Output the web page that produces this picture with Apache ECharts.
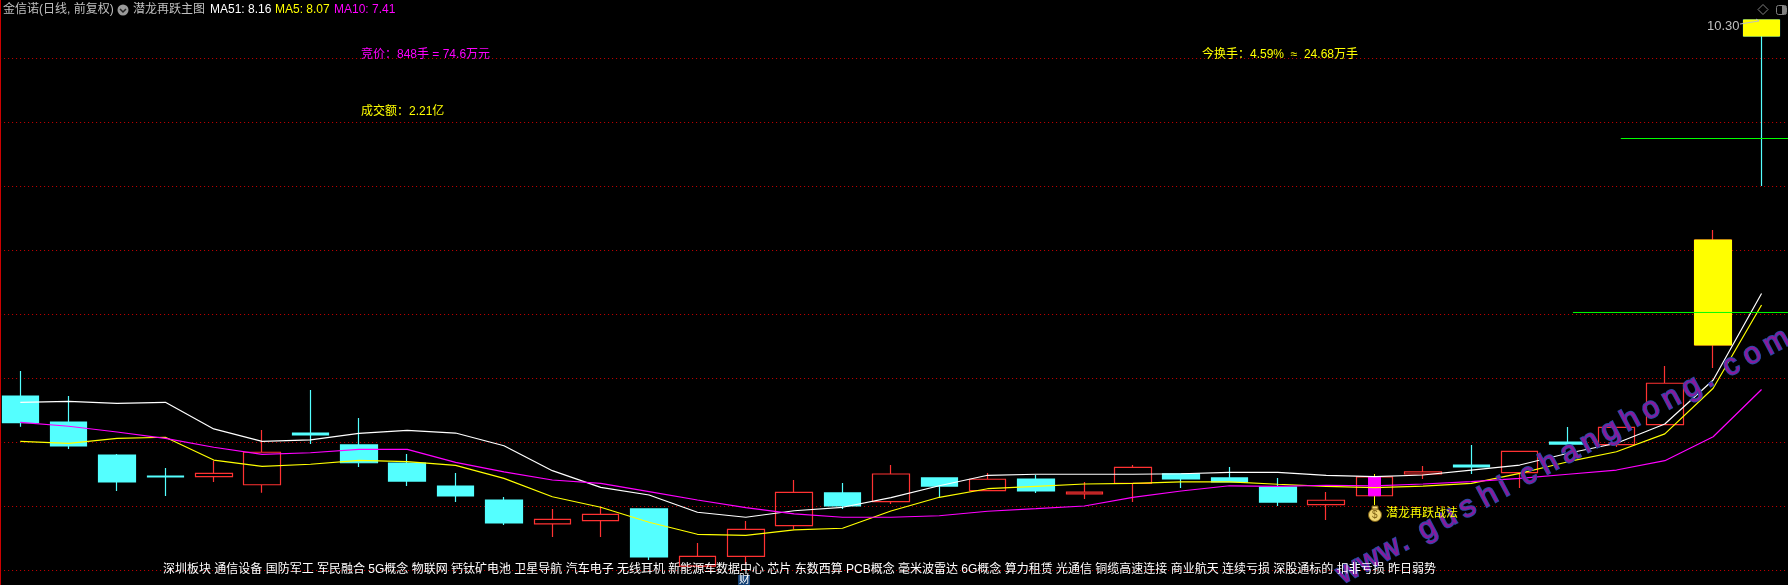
<!DOCTYPE html>
<html>
<head>
<meta charset="utf-8">
<title>金信诺 潜龙再跃主图</title>
<script src="https://cdn.jsdelivr.net/npm/echarts@6/dist/echarts.min.js"></script>
<style>
  html, body { margin: 0; padding: 0; background: #000; }
  #chart { width: 1788px; height: 585px; }
</style>
</head>
<body>
<div id="chart"></div>
<script>
// 日K数据，从图上读的
const opens = [7.359, 7.156, 6.898, 6.734, 6.729, 6.666, 7.07, 6.977, 6.836, 6.656, 6.547, 6.361, 6.385, 6.477, 6.031, 6.107, 6.346, 6.602, 6.534, 6.719, 6.62, 6.711, 6.594, 6.677, 6.752, 6.719, 6.648, 6.51, 6.58, 6.75, 6.82, 6.76, 7.0, 6.979, 7.135, 7.758, 10.297];
const closes = [7.151, 6.969, 6.688, 6.727, 6.755, 6.92, 7.055, 6.838, 6.695, 6.578, 6.367, 6.396, 6.435, 6.102, 6.107, 6.318, 6.607, 6.5, 6.75, 6.656, 6.709, 6.617, 6.609, 6.802, 6.711, 6.688, 6.531, 6.545, 6.727, 6.766, 6.805, 6.927, 6.984, 7.115, 7.459, 8.578, 10.172];
const lows = [7.12, 6.945, 6.617, 6.578, 6.688, 6.604, 6.984, 6.805, 6.656, 6.531, 6.352, 6.258, 6.258, 6.078, 6.023, 6.039, 6.318, 6.477, 6.516, 6.57, 6.62, 6.602, 6.555, 6.531, 6.641, 6.688, 6.5, 6.391, 6.58, 6.711, 6.75, 6.641, 6.984, 6.961, 7.135, 7.578, 9.0];
const highs = [7.555, 7.359, 6.906, 6.797, 6.854, 7.094, 7.406, 7.188, 6.906, 6.758, 6.57, 6.477, 6.498, 6.477, 6.211, 6.383, 6.703, 6.68, 6.82, 6.719, 6.758, 6.742, 6.688, 6.82, 6.752, 6.805, 6.719, 6.609, 6.727, 6.813, 6.977, 6.927, 7.117, 7.115, 7.594, 8.656, 10.297];

const ma51 = [7.31, 7.318, 7.302, 7.31, 7.102, 7.005, 7.016, 7.068, 7.091, 7.07, 6.971, 6.776, 6.646, 6.586, 6.451, 6.412, 6.463, 6.49, 6.565, 6.658, 6.74, 6.748, 6.748, 6.748, 6.752, 6.763, 6.763, 6.74, 6.729, 6.742, 6.781, 6.82, 6.912, 6.99, 7.141, 7.484, 8.16];
const ma5 = [7.005, 6.99, 7.029, 7.037, 6.859, 6.81, 6.826, 6.857, 6.846, 6.818, 6.716, 6.572, 6.49, 6.373, 6.279, 6.271, 6.313, 6.326, 6.461, 6.568, 6.635, 6.654, 6.672, 6.677, 6.688, 6.688, 6.67, 6.654, 6.643, 6.656, 6.677, 6.755, 6.846, 6.924, 7.063, 7.42, 8.07];
const ma10 = [7.154, 7.123, 7.078, 7.029, 6.959, 6.904, 6.916, 6.943, 6.943, 6.841, 6.766, 6.703, 6.677, 6.612, 6.547, 6.487, 6.438, 6.412, 6.412, 6.424, 6.459, 6.479, 6.5, 6.568, 6.617, 6.658, 6.654, 6.662, 6.658, 6.672, 6.69, 6.716, 6.748, 6.781, 6.854, 7.041, 7.41];

// 信号柱：第29根紫色，最后两根黄色
const signalIndex = 28;
const signalBody = [6.58, 6.727];
const signalWick = [6.508, 6.75];
const yellowIndex = [35, 36];
const yellowBody = [[7.758, 8.578], [10.172, 10.297]];

// 两条绿线 [起点序号, 价格]
const levelHigh = [33.09, 9.371];
const levelLow = [32.1, 8.012];

const tagsLeft = ['深圳板块', '通信设备', '国防军工', '军民融合', '5G概念', '物联网', '钙钛矿电池', '卫星导航', '汽车电子', '无线耳机', '新能源车'];
const tagsRight = ['数据中心', '芯片', '东数西算', 'PCB概念', '毫米波雷达', '6G概念', '算力租赁', '光通信', '铜缆高速连接', '商业航天', '连续亏损', '深股通标的', '扣非亏损', '昨日弱势'];
const watermark = 'www.gushichanghong.com';

const RED = '#ff3232';
const CYAN = '#54ffff';
const YELLOW = '#ffff00';
const MAGENTA = '#ff00ff';
const GREEN = '#00ff00';
const FONT = '"Liberation Sans","Noto Sans CJK SC",sans-serif';

// 多留一格，右边才能画到头
const days = opens.map((_, i) => i).concat(opens.length);
const empty = ['-', '-', '-', '-'];

function label(x, y, text, fill, size) {
  return {
    type: 'text', x: x, y: y, z: 100,
    style: { text: text, fill: fill, font: (size || 12) + 'px ' + FONT, verticalAlign: 'middle' },
  };
}

function maSeries(name, data, color) {
  return {
    name: name, type: 'line', data: data, z: 5,
    symbol: 'none', animation: false,
    lineStyle: { color: color, width: 1.2 },
  };
}

function levelSeries(name, start) {
  return {
    name: name, type: 'line', xAxisIndex: 1, z: 6,
    symbol: 'none', animation: false,
    lineStyle: { color: GREEN, width: 1 },
    data: [[start[0], start[1]], [37.5, start[1]]],
  };
}

// 水印逐字摆，间距比字体本身宽
const angle = 28 * Math.PI / 180;
const watermarkChars = watermark.split('').map((ch, i) => ({
  type: 'text', z: 90,
  x: 1346 + i * 20.3,
  y: 590 - i * 10.9,
  rotation: angle,
  style: {
    text: ch, fill: '#8a1a9c', stroke: '#2a4aa8', lineWidth: 2, strokeFirst: true,
    font: '30px "Liberation Sans",sans-serif', verticalAlign: 'bottom',
  },
}));

const decorations = [
  { type: 'rect', z: 100, shape: { x: 0, y: 0, width: 1, height: 585 }, style: { fill: '#cc0000' } },

  label(3, 10, '金信诺(日线, 前复权)', '#c0c0c0'),
  { type: 'circle', z: 100, shape: { cx: 123, cy: 10, r: 5.5 }, style: { fill: '#9a9a9a' } },
  { type: 'polyline', z: 101, shape: { points: [[120, 9], [123, 12], [126, 9]] }, style: { stroke: '#222', lineWidth: 1.5, fill: null } },
  label(133, 10, '潜龙再跃主图', '#c0c0c0'),
  label(210, 10, 'MA51: 8.16', '#ffffff'),
  label(275, 10, 'MA5: 8.07', YELLOW),
  label(334, 10, 'MA10: 7.41', MAGENTA),

  label(361, 55, '竞价：848手 = 74.6万元', MAGENTA),
  label(361, 112, '成交额：2.21亿', YELLOW),
  label(1202, 55, '今换手：4.59%  ≈  24.68万手', YELLOW),

  label(1707, 26, '10.30', '#c0c0c0', 13),
  { type: 'polyline', z: 100, shape: { points: [[1740, 24], [1759, 21], [1756, 19]] }, style: { stroke: '#c0c0c0', lineWidth: 1, fill: null } },
  { type: 'polygon', z: 100, shape: { points: [[1763, 4.5], [1768, 9.5], [1763, 14.5], [1758, 9.5]] }, style: { stroke: '#808080', lineWidth: 1, fill: null } },
  { type: 'rect', z: 100, shape: { x: 1776.5, y: 5.5, width: 10, height: 9, r: 2 }, style: { stroke: '#808080', lineWidth: 1, fill: null } },
  { type: 'rect', z: 100, shape: { x: 1782, y: 6, width: 4, height: 8 }, style: { fill: '#808080' } },

  // 钱袋 + 信号文字
  { type: 'circle', z: 100, shape: { cx: 1375, cy: 515, r: 6.5 }, style: { fill: '#f2d873', stroke: '#7a5c10', lineWidth: 1 } },
  { type: 'rect', z: 100, shape: { x: 1372, y: 506, width: 6, height: 3 }, style: { fill: '#f2d873', stroke: '#7a5c10', lineWidth: 1 } },
  label(1372, 515, '$', '#7a5c10', 10),
  label(1386, 514, '潜龙再跃战法', YELLOW),

  label(163, 570, tagsLeft.join(' '), '#ffffff'),
  label(716, 570, tagsRight.join(' '), '#ffffff'),
  { type: 'rect', z: 100, shape: { x: 738, y: 575, width: 12, height: 10 }, style: { fill: '#123f73' } },
  label(739, 580, '财', '#ffffff', 11),
].concat(watermarkChars);

const option = {
  backgroundColor: '#000',
  animation: false,
  grid: { left: -3.9, top: -6, width: 1838, height: 640, containLabel: false, outerBoundsMode: 'none' },
  xAxis: [
    {
      type: 'category', data: days, boundaryGap: true,
      axisLine: { show: false }, axisTick: { show: false }, axisLabel: { show: false },
      splitLine: { show: false },
    },
    {
      type: 'value', min: -0.5, max: 37.5, show: false,
      splitLine: { show: false },
    },
  ],
  yAxis: {
    type: 'value', min: 5.5, max: 10.5, interval: 0.5,
    axisLine: { show: false }, axisTick: { show: false }, axisLabel: { show: false },
    splitLine: { show: true, lineStyle: { color: '#cc0000', width: 1, type: [1, 3] } },
  },
  series: [
    {
      name: 'K线', type: 'candlestick', barWidth: 37, z: 2,
      data: opens.map((o, i) => [o, closes[i], lows[i], highs[i]]),
      itemStyle: {
        color: 'rgba(0,0,0,0)', borderColor: RED,
        color0: CYAN, borderColor0: CYAN, borderWidth: 1.2,
      },
    },
    {
      name: '黄柱', type: 'candlestick', barWidth: 37, z: 3,
      data: days.map((d) => {
        const k = yellowIndex.indexOf(d);
        return k < 0 ? empty : [yellowBody[k][0], yellowBody[k][1], yellowBody[k][0], yellowBody[k][1]];
      }),
      itemStyle: { color: YELLOW, borderColor: YELLOW },
    },
    {
      name: '信号线', type: 'candlestick', barWidth: 1, z: 3,
      data: days.map((d) => (d === signalIndex ? [signalBody[0], signalBody[1], signalWick[0], signalWick[1]] : empty)),
      itemStyle: { color: YELLOW, borderColor: YELLOW },
    },
    {
      name: '信号柱', type: 'candlestick', barWidth: 13, z: 4,
      data: days.map((d) => (d === signalIndex ? [signalBody[0], signalBody[1], signalBody[0], signalBody[1]] : empty)),
      itemStyle: { color: MAGENTA, borderColor: MAGENTA },
    },
    maSeries('MA51', ma51, '#ffffff'),
    maSeries('MA5', ma5, YELLOW),
    maSeries('MA10', ma10, MAGENTA),
    levelSeries('上轨', levelHigh),
    levelSeries('下轨', levelLow),
  ],
  graphic: { elements: decorations },
};

const myChart = echarts.init(document.getElementById('chart'));
myChart.setOption(option);
</script>
</body>
</html>
